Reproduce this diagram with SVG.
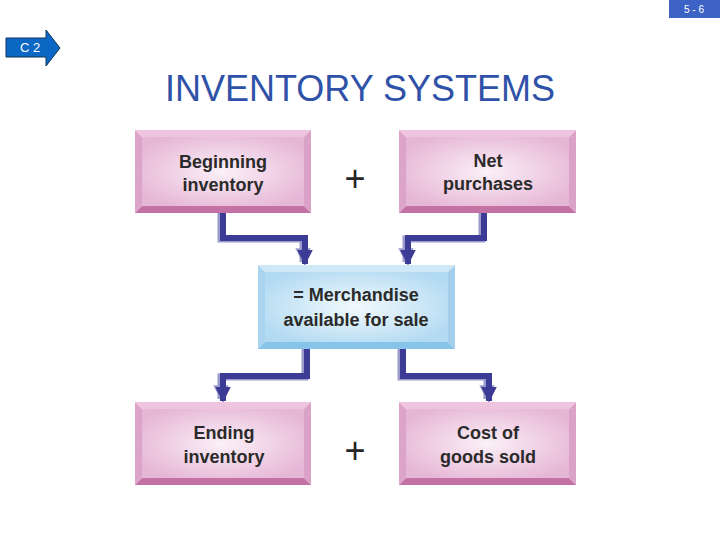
<svg xmlns="http://www.w3.org/2000/svg" width="720" height="540" viewBox="0 0 720 540">
<defs>
<radialGradient id="pk" cx="50%" cy="50%" r="60%">
<stop offset="0" stop-color="#fbf0f7"/>
<stop offset="1" stop-color="#e6b6d6"/>
</radialGradient>
<radialGradient id="bl" cx="50%" cy="50%" r="60%">
<stop offset="0" stop-color="#f2f9fd"/>
<stop offset="1" stop-color="#b2daf2"/>
</radialGradient>
<marker id="ah" viewBox="0 0 10 10" refX="9" refY="5" markerWidth="2.6" markerHeight="2.6" orient="auto" markerUnits="strokeWidth">
<path d="M0,0 L10,5 L0,10 Z" fill="#3c3c96"/>
</marker>
<marker id="ahs" viewBox="0 0 10 10" refX="9" refY="5" markerWidth="2.2" markerHeight="2.2" orient="auto" markerUnits="strokeWidth">
<path d="M0,0 L10,5 L0,10 Z" fill="#9a9acc"/>
</marker>
</defs>
<style>
.lbl{font-family:"Liberation Sans",Arial,sans-serif;font-weight:bold;font-size:18px;fill:#2a2a2a;text-anchor:middle}
.plus{font-family:"Liberation Sans",Arial,sans-serif;font-size:36px;fill:#262626;text-anchor:middle}
.con{fill:none;stroke:#3c3c96;stroke-width:6;stroke-linejoin:miter}
.sh{fill:none;stroke:#9a9acc;stroke-width:7;stroke-linejoin:miter}
.pt{fill:#eec4df}.pl{fill:#dba4c8}.pr{fill:#d9a2c6}.pb{fill:#c472a6}
.bt{fill:#cfe8f6}.bbl{fill:#a8d4f0}.br{fill:#a4d0ee}.bb{fill:#86c4ea}
</style>
<rect width="720" height="540" fill="#ffffff"/>
<g id="page-num">
<rect x="669" y="0" width="51" height="18" fill="#3b62c4"/>
<text x="694" y="13" font-family="Liberation Sans,Arial,sans-serif" font-size="10" fill="#ffffff" text-anchor="middle">5 - 6</text>
</g>
<g id="c2-arrow">
<path d="M6,38 L46,38 L46,30 L60,48 L46,66 L46,57 L6,57 Z" fill="#0a68c4" stroke="#12325a" stroke-width="1"/>
<text x="30" y="52" font-family="Liberation Sans,Arial,sans-serif" font-size="13" fill="#ffffff" text-anchor="middle">C 2</text>
</g>
<text id="title" x="165" y="101" font-family="Liberation Sans,Arial,sans-serif" font-size="36" fill="#2f52a8">INVENTORY SYSTEMS</text>
<g id="connectors">
<path class="sh" d="M221,213 V239 H303 V262" marker-end="url(#ahs)"/>
<path class="con" d="M223,213 V238 H305 V264" marker-end="url(#ah)"/>
<path class="sh" d="M482,213 V239 H406 V262" marker-end="url(#ahs)"/>
<path class="con" d="M484,213 V238 H408 V264" marker-end="url(#ah)"/>
<path class="sh" d="M305,349 V377 H221 V399" marker-end="url(#ahs)"/>
<path class="con" d="M307,349 V376 H223 V401" marker-end="url(#ah)"/>
<path class="sh" d="M401,349 V377 H487 V399" marker-end="url(#ahs)"/>
<path class="con" d="M403,349 V376 H489 V401" marker-end="url(#ah)"/>
</g>
<g id="beginning-inventory">
<polygon class="pt" points="135,130 311,130 304,137 142,137"/>
<polygon class="pl" points="135,130 142,137 142,206 135,213"/>
<polygon class="pr" points="311,130 304,137 304,206 311,213"/>
<polygon class="pb" points="135,213 142,206 304,206 311,213"/>
<rect x="142" y="137" width="162" height="69" fill="url(#pk)"/>
<text class="lbl" x="223" y="168">Beginning</text>
<text class="lbl" x="223" y="191">inventory</text>
</g>
<g id="net-purchases">
<polygon class="pt" points="399,130 576,130 569,137 406,137"/>
<polygon class="pl" points="399,130 406,137 406,206 399,213"/>
<polygon class="pr" points="576,130 569,137 569,206 576,213"/>
<polygon class="pb" points="399,213 406,206 569,206 576,213"/>
<rect x="406" y="137" width="163" height="69" fill="url(#pk)"/>
<text class="lbl" x="488" y="167">Net</text>
<text class="lbl" x="488" y="190">purchases</text>
</g>
<text class="plus" x="355" y="191">+</text>
<g id="merchandise">
<polygon class="bt" points="258,265 455,265 448,272 265,272"/>
<polygon class="bbl" points="258,265 265,272 265,342 258,349"/>
<polygon class="br" points="455,265 448,272 448,342 455,349"/>
<polygon class="bb" points="258,349 265,342 448,342 455,349"/>
<rect x="265" y="272" width="183" height="70" fill="url(#bl)"/>
<text class="lbl" x="356" y="301">= Merchandise</text>
<text class="lbl" x="356" y="326">available for sale</text>
</g>
<g id="ending-inventory">
<polygon class="pt" points="135,402 311,402 304,409 142,409"/>
<polygon class="pl" points="135,402 142,409 142,478 135,485"/>
<polygon class="pr" points="311,402 304,409 304,478 311,485"/>
<polygon class="pb" points="135,485 142,478 304,478 311,485"/>
<rect x="142" y="409" width="162" height="69" fill="url(#pk)"/>
<text class="lbl" x="224" y="439">Ending</text>
<text class="lbl" x="224" y="463">inventory</text>
</g>
<g id="cost-of-goods-sold">
<polygon class="pt" points="399,402 576,402 569,409 406,409"/>
<polygon class="pl" points="399,402 406,409 406,478 399,485"/>
<polygon class="pr" points="576,402 569,409 569,478 576,485"/>
<polygon class="pb" points="399,485 406,478 569,478 576,485"/>
<rect x="406" y="409" width="163" height="69" fill="url(#pk)"/>
<text class="lbl" x="488" y="439">Cost of</text>
<text class="lbl" x="488" y="463">goods sold</text>
</g>
<text class="plus" x="355" y="463">+</text>
</svg>
